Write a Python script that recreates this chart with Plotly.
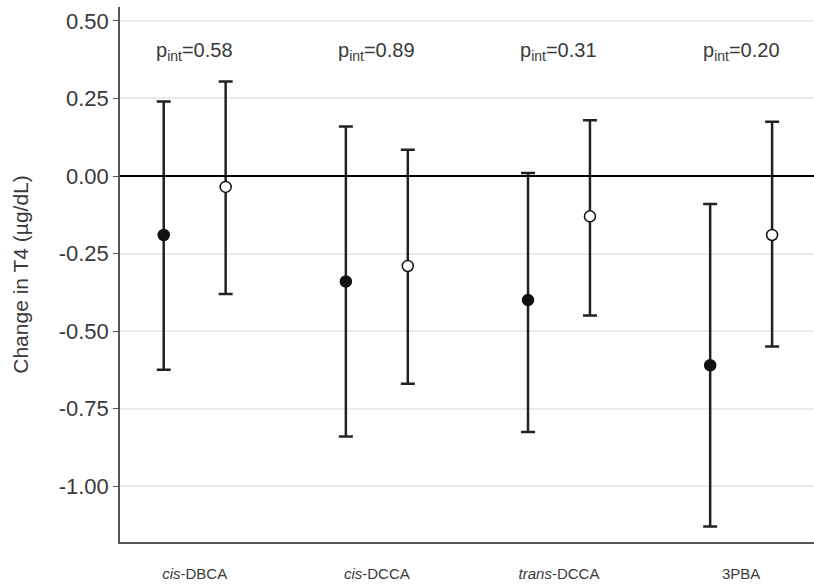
import plotly.graph_objects as go

categories = ["<i>cis</i>-DBCA", "<i>cis</i>-DCCA", "<i>trans</i>-DCCA", "3PBA"]
p_int = ["0.58", "0.89", "0.31", "0.20"]

filled_est = [-0.19, -0.34, -0.40, -0.61]
filled_lo = [-0.625, -0.84, -0.825, -1.13]
filled_hi = [0.24, 0.16, 0.01, -0.09]

open_est = [-0.035, -0.29, -0.13, -0.19]
open_lo = [-0.38, -0.67, -0.45, -0.55]
open_hi = [0.305, 0.085, 0.18, 0.175]

offset = 0.17
idx = list(range(len(categories)))

fig = go.Figure()

def add_series(est, lo, hi, sign, fill):
    xs = [i + sign * offset for i in idx]
    fig.add_trace(go.Scatter(
        x=xs, y=est, mode="markers",
        error_y=dict(type="data", symmetric=False,
                     array=[h - e for h, e in zip(hi, est)],
                     arrayminus=[e - l for e, l in zip(est, lo)],
                     color="#222222", thickness=2.5, width=7),
        marker=dict(size=11, color=fill, line=dict(color="#111111", width=1.5)),
        showlegend=False, cliponaxis=False, hoverinfo="skip"))

add_series(filled_est, filled_lo, filled_hi, -1, "#111111")
add_series(open_est, open_lo, open_hi, 1, "white")

for i, p in zip(idx, p_int):
    fig.add_annotation(x=i, y=0.40, text="p<sub>int</sub>=" + p, showarrow=False,
                       font=dict(size=20, color="#3a3a3a", family="Arial"))

fig.add_hline(y=0, line=dict(color="black", width=2))

fig.update_layout(
    width=814, height=586,
    margin=dict(l=120, r=0, t=7, b=44),
    plot_bgcolor="white", paper_bgcolor="white",
    font=dict(family="Arial", color="#3a3a3a"),
    xaxis=dict(range=[-0.41, 3.40], tickmode="array", tickvals=idx, ticktext=categories,
               showgrid=False, zeroline=False, showline=True, linecolor="#555555", linewidth=1.5,
               ticks="", tickfont=dict(size=15, color="#3a3a3a"), ticklabelstandoff=17),
    yaxis=dict(range=[-1.18, 0.545], tickmode="array",
               tickvals=[0.5, 0.25, 0, -0.25, -0.5, -0.75, -1.0],
               ticktext=["0.50", "0.25", "0.00", "-0.25", "-0.50", "-0.75", "-1.00"],
               showgrid=True, gridcolor="#ebebeb", gridwidth=1.5, zeroline=False,
               showline=True, linecolor="#555555", linewidth=1.5,
               ticks="outside", ticklen=5, tickcolor="#555555",
               tickfont=dict(size=22, color="#3a3a3a"),
               title=dict(text="Change in T4 (µg/dL)", font=dict(size=21, color="#3a3a3a"), standoff=24)),
)

fig.write_html("out.html", config={"displayModeBar": False},
               post_script="document.body.style.margin='0';document.body.style.overflow='hidden';")
